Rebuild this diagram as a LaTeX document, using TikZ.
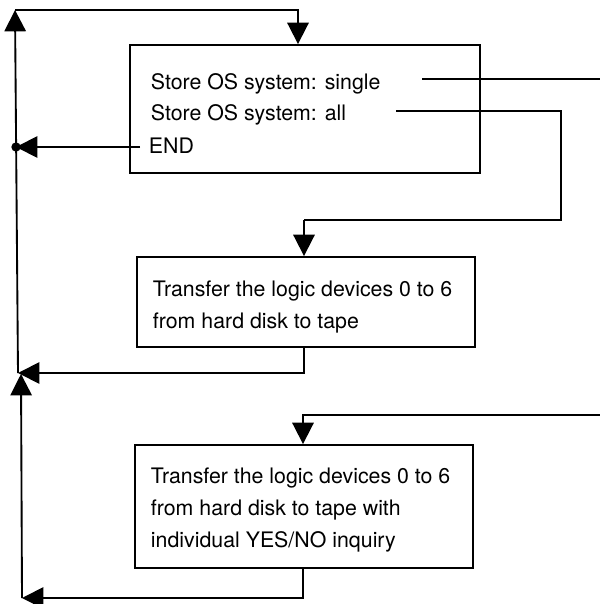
\documentclass[tikz,border=0pt]{standalone}
\usepackage{fontspec}
\setmainfont{TeX Gyre Heros}
\usepackage{tikz}
\usetikzlibrary{arrows.meta,calc}

\begin{document}
\begin{tikzpicture}[x=0.75pt,y=-0.75pt,line width=1.4pt,
  box/.style={draw,inner sep=0pt},
  txt/.style={inner sep=0pt,font=\fontsize{16}{24}\selectfont,align=left},
  arr/.style={-{Triangle[length=16pt,width=16pt]}}]
\useasboundingbox (0,0) rectangle (600,604);
\node[box,minimum width=262.5pt,minimum height=96pt] (box1) at (305,109) {};
\node[box,minimum width=253.5pt,minimum height=67.5pt] (box2) at (306,302) {};
\node[box,minimum width=253.5pt,minimum height=92.25pt] (box3) at (304,506.5) {};
\node[txt,anchor=base west] (single) at (150,89) {Store OS system: single};
\node[txt,anchor=base west] (all) at (150,120) {Store OS system: all};
\node[txt,anchor=base west] (end) at (148,153) {END};
\node[txt,anchor=north west] (tape) at (152,280) {Transfer the logic devices 0 to 6\\from hard disk to tape};
\node[txt,anchor=north west] (ask) at (150,467) {Transfer the logic devices 0 to 6\\from hard disk to tape with\\individual YES/NO inquiry};
\coordinate (sgl) at (422,79);
\coordinate (rs) at (600,79);
\coordinate (al) at (396,111);
\coordinate (ac) at (561,111);
\coordinate (bc) at (304,220);
\coordinate (tl) at (15,10);
\coordinate (tr) at (298,10);
\coordinate (eo) at (140,147);
\coordinate (d1) at (16,147);
\coordinate (b2) at (304,373);
\coordinate (j1) at (18,373);
\coordinate (j2) at (21,374);
\coordinate (ri) at (600,415);
\coordinate (b3) at (303,415);
\coordinate (b4) at (303,598);
\coordinate (bl) at (22,598);
\draw (sgl) -- (rs);
\draw (al) -- (ac) |- (bc);
\draw[arr] (bc) -- (bc |- box2.north);
\draw[arr] (j1) -- (tl);
\draw[arr] (tl) -- (tr) -- (tr |- box1.north);
\draw[arr] (eo) -- (d1);
\fill (d1) circle (3.5pt);
\draw[arr] (box2.south -| b2) -- (b2) -- (j1);
\draw[arr] (ri) -- (b3) -- (b3 |- box3.north);
\draw[arr] (box3.south -| b4) -- (b4) -- (bl);
\draw[arr] (bl) -- (j2);
\end{tikzpicture}
\end{document}
